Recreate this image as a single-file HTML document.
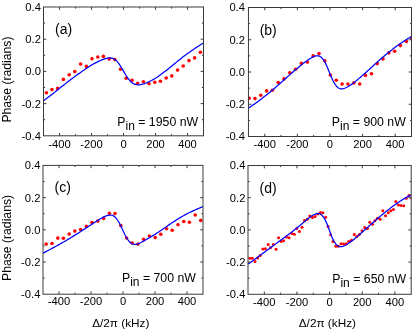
<!DOCTYPE html>
<html lang="en"><head><meta charset="utf-8"><title>Phase vs detuning</title>
<style>
html,body{margin:0;padding:0;background:#fff;}
body{width:415px;height:331px;overflow:hidden;}
svg{display:block;font-family:"Liberation Sans",sans-serif;will-change:transform;opacity:0.999;}
</style></head><body>
<svg width="415" height="331" viewBox="0 0 415 331">
<rect width="415" height="331" fill="#fff"/>
<g id="panel-a">
<clipPath id="clip-a"><rect x="43.5" y="7" width="160" height="128.8"/></clipPath>
<g fill="#ff0000" clip-path="url(#clip-a)"><circle cx="46.4" cy="92.8" r="1.8"/><circle cx="52" cy="89.6" r="1.8"/><circle cx="57.6" cy="88.4" r="1.8"/><circle cx="63.4" cy="79.4" r="1.8"/><circle cx="69.2" cy="74.8" r="1.8"/><circle cx="74.8" cy="71.6" r="1.8"/><circle cx="80.6" cy="64" r="1.8"/><circle cx="86.4" cy="66.4" r="1.8"/><circle cx="92" cy="58.8" r="1.8"/><circle cx="97.8" cy="57" r="1.8"/><circle cx="103.4" cy="56.4" r="1.8"/><circle cx="109.2" cy="59" r="1.8"/><circle cx="114.8" cy="59.6" r="1.8"/><circle cx="120.6" cy="69.2" r="1.8"/><circle cx="126.2" cy="78.2" r="1.8"/><circle cx="132" cy="80.3" r="1.8"/><circle cx="137.6" cy="83.2" r="1.8"/><circle cx="143.4" cy="81.7" r="1.8"/><circle cx="149" cy="83.8" r="1.8"/><circle cx="154.8" cy="82.2" r="1.8"/><circle cx="160.4" cy="81.3" r="1.8"/><circle cx="166.2" cy="78" r="1.8"/><circle cx="171.8" cy="75.9" r="1.8"/><circle cx="177.6" cy="70.1" r="1.8"/><circle cx="183.2" cy="66" r="1.8"/><circle cx="189" cy="60.6" r="1.8"/><circle cx="194.6" cy="57.9" r="1.8"/><circle cx="200.4" cy="52.3" r="1.8"/></g>
<path d="M43.5 100.73 L44.5 100.03 L45.5 99.32 L46.5 98.58 L47.5 97.84 L48.5 97.08 L49.5 96.31 L50.5 95.54 L51.5 94.75 L52.5 93.96 L53.5 93.17 L54.5 92.37 L55.5 91.57 L56.5 90.77 L57.5 89.96 L58.5 89.16 L59.5 88.36 L60.5 87.56 L61.5 86.77 L62.5 85.98 L63.5 85.19 L64.5 84.41 L65.5 83.63 L66.5 82.86 L67.5 82.09 L68.5 81.32 L69.5 80.56 L70.5 79.8 L71.5 79.04 L72.5 78.29 L73.5 77.55 L74.5 76.81 L75.5 76.07 L76.5 75.33 L77.5 74.6 L78.5 73.88 L79.5 73.16 L80.5 72.44 L81.5 71.73 L82.5 71.03 L83.5 70.33 L84.5 69.64 L85.5 68.96 L86.5 68.29 L87.5 67.63 L88.5 66.97 L89.5 66.33 L90.5 65.71 L91.5 65.1 L92.5 64.51 L93.5 63.93 L94.5 63.38 L95.5 62.85 L96.5 62.33 L97.5 61.84 L98.5 61.36 L99.5 60.9 L100.5 60.47 L101.5 60.05 L102.5 59.66 L103.5 59.29 L104.5 58.95 L105.5 58.64 L106.5 58.37 L107.5 58.15 L108.5 57.99 L109.5 57.91 L110.5 57.92 L111.5 58.04 L112.5 58.29 L113.5 58.69 L114.5 59.24 L115.5 59.96 L116.5 60.86 L117.5 61.94 L118.5 63.17 L119.5 64.57 L120.5 66.09 L121.5 67.71 L122.5 69.41 L123.5 71.13 L124.5 72.85 L125.5 74.53 L126.5 76.12 L127.5 77.62 L128.5 78.98 L129.5 80.21 L130.5 81.28 L131.5 82.2 L132.5 82.96 L133.5 83.59 L134.5 84.07 L135.5 84.43 L136.5 84.67 L137.5 84.8 L138.5 84.83 L139.5 84.78 L140.5 84.66 L141.5 84.47 L142.5 84.23 L143.5 83.93 L144.5 83.6 L145.5 83.23 L146.5 82.84 L147.5 82.41 L148.5 81.96 L149.5 81.49 L150.5 81 L151.5 80.49 L152.5 79.95 L153.5 79.39 L154.5 78.81 L155.5 78.2 L156.5 77.56 L157.5 76.91 L158.5 76.23 L159.5 75.53 L160.5 74.81 L161.5 74.08 L162.5 73.34 L163.5 72.58 L164.5 71.81 L165.5 71.03 L166.5 70.24 L167.5 69.44 L168.5 68.64 L169.5 67.84 L170.5 67.03 L171.5 66.21 L172.5 65.4 L173.5 64.58 L174.5 63.76 L175.5 62.95 L176.5 62.13 L177.5 61.32 L178.5 60.52 L179.5 59.72 L180.5 58.92 L181.5 58.14 L182.5 57.36 L183.5 56.59 L184.5 55.84 L185.5 55.09 L186.5 54.35 L187.5 53.62 L188.5 52.9 L189.5 52.19 L190.5 51.48 L191.5 50.78 L192.5 50.09 L193.5 49.4 L194.5 48.73 L195.5 48.05 L196.5 47.39 L197.5 46.74 L198.5 46.09 L199.5 45.45 L200.5 44.82 L201.5 44.2 L202.5 43.59 L203.5 42.98" fill="none" stroke="#0000ff" stroke-width="1.25" stroke-linejoin="round" clip-path="url(#clip-a)"/>
<rect x="43.5" y="7" width="160" height="128.8" fill="none" stroke="#3a3a3a" stroke-width="1.0"/>
<path d="M59.5 135.8v-2.8M59.5 7v2.8M75.5 135.8v-1.6M75.5 7v1.6M91.5 135.8v-2.8M91.5 7v2.8M107.5 135.8v-1.6M107.5 7v1.6M123.5 135.8v-2.8M123.5 7v2.8M139.5 135.8v-1.6M139.5 7v1.6M155.5 135.8v-2.8M155.5 7v2.8M171.5 135.8v-1.6M171.5 7v1.6M187.5 135.8v-2.8M187.5 7v2.8M43.5 23.1h1.6M203.5 23.1h-1.6M43.5 39.2h2.8M203.5 39.2h-2.8M43.5 55.3h1.6M203.5 55.3h-1.6M43.5 71.4h2.8M203.5 71.4h-2.8M43.5 87.5h1.6M203.5 87.5h-1.6M43.5 103.6h2.8M203.5 103.6h-2.8M43.5 119.7h1.6M203.5 119.7h-1.6" stroke="#3a3a3a" stroke-width="1.0" fill="none"/>
<g font-size="11.2" fill="#000"><text x="59.5" y="147.6" text-anchor="middle">-400</text><text x="91.5" y="147.6" text-anchor="middle">-200</text><text x="123.5" y="147.6" text-anchor="middle">0</text><text x="155.5" y="147.6" text-anchor="middle">200</text><text x="187.5" y="147.6" text-anchor="middle">400</text><text x="40.9" y="10.95" text-anchor="end">0.4</text><text x="40.9" y="43.15" text-anchor="end">0.2</text><text x="40.9" y="75.35" text-anchor="end">0.0</text><text x="40.9" y="107.55" text-anchor="end">-0.2</text><text x="40.9" y="139.75" text-anchor="end">-0.4</text></g>
<text x="55" y="33.6" font-size="14" fill="#000">(a)</text>
<text x="198.1" y="126" font-size="12.3" fill="#000" text-anchor="end">P<tspan font-size="12" dy="3.8">in</tspan><tspan dy="-3.8"> = 1950 nW</tspan></text>
</g>
<g id="panel-b">
<clipPath id="clip-b"><rect x="248.45" y="7.5" width="163.05" height="129"/></clipPath>
<g fill="#ff0000" clip-path="url(#clip-b)"><circle cx="249.2" cy="98.2" r="1.8"/><circle cx="255" cy="98.6" r="1.8"/><circle cx="260.8" cy="95.3" r="1.8"/><circle cx="266.6" cy="90.9" r="1.8"/><circle cx="272.4" cy="90.3" r="1.8"/><circle cx="278.2" cy="82.5" r="1.8"/><circle cx="284" cy="78.9" r="1.8"/><circle cx="289.8" cy="72.7" r="1.8"/><circle cx="295.6" cy="69.2" r="1.8"/><circle cx="301.4" cy="63.4" r="1.8"/><circle cx="307.4" cy="62.1" r="1.8"/><circle cx="313.2" cy="55.9" r="1.8"/><circle cx="319" cy="53.6" r="1.8"/><circle cx="324.8" cy="60.9" r="1.8"/><circle cx="330.3" cy="75" r="1.8"/><circle cx="336.3" cy="80.3" r="1.8"/><circle cx="342.1" cy="84" r="1.8"/><circle cx="347.9" cy="84" r="1.8"/><circle cx="353.9" cy="82.9" r="1.8"/><circle cx="359.7" cy="84" r="1.8"/><circle cx="365.5" cy="75.4" r="1.8"/><circle cx="371.5" cy="73.7" r="1.8"/><circle cx="377.3" cy="63.6" r="1.8"/><circle cx="383" cy="58.9" r="1.8"/><circle cx="388.8" cy="52.9" r="1.8"/><circle cx="394.6" cy="51.2" r="1.8"/><circle cx="400.4" cy="45.6" r="1.8"/><circle cx="406.4" cy="41.5" r="1.8"/><circle cx="411.8" cy="38.3" r="1.8"/></g>
<path d="M248.45 108.2 L249.47 107.49 L250.49 106.78 L251.51 106.07 L252.53 105.35 L253.55 104.63 L254.56 103.9 L255.58 103.17 L256.6 102.43 L257.62 101.69 L258.64 100.94 L259.66 100.18 L260.68 99.42 L261.7 98.65 L262.72 97.87 L263.74 97.09 L264.75 96.31 L265.77 95.51 L266.79 94.71 L267.81 93.9 L268.83 93.08 L269.85 92.25 L270.87 91.41 L271.89 90.56 L272.91 89.7 L273.93 88.82 L274.95 87.94 L275.96 87.05 L276.98 86.15 L278 85.25 L279.02 84.34 L280.04 83.42 L281.06 82.51 L282.08 81.59 L283.1 80.68 L284.12 79.76 L285.14 78.85 L286.16 77.94 L287.17 77.04 L288.19 76.14 L289.21 75.24 L290.23 74.35 L291.25 73.46 L292.27 72.58 L293.29 71.7 L294.31 70.83 L295.33 69.96 L296.35 69.1 L297.37 68.24 L298.38 67.4 L299.4 66.56 L300.42 65.74 L301.44 64.92 L302.46 64.12 L303.48 63.33 L304.5 62.55 L305.52 61.79 L306.54 61.04 L307.56 60.31 L308.57 59.6 L309.59 58.92 L310.61 58.28 L311.63 57.67 L312.65 57.12 L313.67 56.64 L314.69 56.24 L315.71 55.94 L316.73 55.77 L317.75 55.76 L318.77 55.94 L319.78 56.32 L320.8 56.94 L321.82 57.82 L322.84 58.99 L323.86 60.43 L324.88 62.16 L325.9 64.15 L326.92 66.36 L327.94 68.75 L328.96 71.24 L329.98 73.76 L330.99 76.23 L332.01 78.58 L333.03 80.74 L334.05 82.67 L335.07 84.33 L336.09 85.72 L337.11 86.83 L338.13 87.67 L339.15 88.27 L340.17 88.63 L341.18 88.81 L342.2 88.8 L343.22 88.65 L344.24 88.38 L345.26 88 L346.28 87.54 L347.3 87.01 L348.32 86.43 L349.34 85.79 L350.36 85.12 L351.38 84.42 L352.39 83.69 L353.41 82.93 L354.43 82.16 L355.45 81.37 L356.47 80.56 L357.49 79.73 L358.51 78.89 L359.53 78.04 L360.55 77.17 L361.57 76.29 L362.58 75.4 L363.6 74.5 L364.62 73.59 L365.64 72.68 L366.66 71.76 L367.68 70.83 L368.7 69.91 L369.72 68.98 L370.74 68.05 L371.76 67.12 L372.78 66.18 L373.79 65.25 L374.81 64.32 L375.83 63.39 L376.85 62.47 L377.87 61.55 L378.89 60.64 L379.91 59.73 L380.93 58.83 L381.95 57.94 L382.97 57.05 L383.99 56.18 L385 55.32 L386.02 54.48 L387.04 53.64 L388.06 52.82 L389.08 52 L390.1 51.2 L391.12 50.41 L392.14 49.62 L393.16 48.85 L394.18 48.08 L395.19 47.31 L396.21 46.56 L397.23 45.81 L398.25 45.06 L399.27 44.33 L400.29 43.6 L401.31 42.89 L402.33 42.19 L403.35 41.5 L404.37 40.82 L405.39 40.16 L406.4 39.52 L407.42 38.9 L408.44 38.3 L409.46 37.72 L410.48 37.17 L411.5 36.65" fill="none" stroke="#0000ff" stroke-width="1.25" stroke-linejoin="round" clip-path="url(#clip-b)"/>
<rect x="248.45" y="7.5" width="163.05" height="129" fill="none" stroke="#3a3a3a" stroke-width="1.0"/>
<path d="M264.75 136.5v-2.8M264.75 7.5v2.8M281.06 136.5v-1.6M281.06 7.5v1.6M297.37 136.5v-2.8M297.37 7.5v2.8M313.67 136.5v-1.6M313.67 7.5v1.6M329.98 136.5v-2.8M329.98 7.5v2.8M346.28 136.5v-1.6M346.28 7.5v1.6M362.58 136.5v-2.8M362.58 7.5v2.8M378.89 136.5v-1.6M378.89 7.5v1.6M395.19 136.5v-2.8M395.19 7.5v2.8M248.45 23.62h1.6M411.5 23.62h-1.6M248.45 39.75h2.8M411.5 39.75h-2.8M248.45 55.88h1.6M411.5 55.88h-1.6M248.45 72h2.8M411.5 72h-2.8M248.45 88.12h1.6M411.5 88.12h-1.6M248.45 104.25h2.8M411.5 104.25h-2.8M248.45 120.38h1.6M411.5 120.38h-1.6" stroke="#3a3a3a" stroke-width="1.0" fill="none"/>
<g font-size="11.2" fill="#000"><text x="264.75" y="148.3" text-anchor="middle">-400</text><text x="297.37" y="148.3" text-anchor="middle">-200</text><text x="329.98" y="148.3" text-anchor="middle">0</text><text x="362.58" y="148.3" text-anchor="middle">200</text><text x="395.19" y="148.3" text-anchor="middle">400</text><text x="244.95" y="11.45" text-anchor="end">0.4</text><text x="244.95" y="43.7" text-anchor="end">0.2</text><text x="244.95" y="75.95" text-anchor="end">0.0</text><text x="244.95" y="108.2" text-anchor="end">-0.2</text><text x="244.95" y="140.45" text-anchor="end">-0.4</text></g>
<text x="259.65" y="34.8" font-size="14" fill="#000">(b)</text>
<text x="405.8" y="126" font-size="12.3" fill="#000" text-anchor="end">P<tspan font-size="12" dy="3.8">in</tspan><tspan dy="-3.8"> = 900 nW</tspan></text>
</g>
<g id="panel-c">
<clipPath id="clip-c"><rect x="43" y="165.4" width="160" height="128.8"/></clipPath>
<g fill="#ff0000" clip-path="url(#clip-c)"><circle cx="46.2" cy="244.1" r="1.8"/><circle cx="52" cy="243.5" r="1.8"/><circle cx="57.8" cy="238.1" r="1.8"/><circle cx="63.4" cy="238.3" r="1.8"/><circle cx="69.2" cy="234" r="1.8"/><circle cx="74.8" cy="231.1" r="1.8"/><circle cx="80.6" cy="229.6" r="1.8"/><circle cx="86.4" cy="226.3" r="1.8"/><circle cx="92" cy="222.6" r="1.8"/><circle cx="97.8" cy="221.1" r="1.8"/><circle cx="103.6" cy="218.4" r="1.8"/><circle cx="109.4" cy="213.2" r="1.8"/><circle cx="115" cy="213.6" r="1.8"/><circle cx="120.8" cy="225.6" r="1.8"/><circle cx="126.6" cy="238" r="1.8"/><circle cx="132.2" cy="243" r="1.8"/><circle cx="138" cy="244.1" r="1.8"/><circle cx="143.6" cy="239.3" r="1.8"/><circle cx="149.4" cy="236" r="1.8"/><circle cx="155.2" cy="237.6" r="1.8"/><circle cx="160.8" cy="234.3" r="1.8"/><circle cx="166.6" cy="228.7" r="1.8"/><circle cx="172.2" cy="230.2" r="1.8"/><circle cx="178" cy="224.8" r="1.8"/><circle cx="183.8" cy="221.5" r="1.8"/><circle cx="189.4" cy="222.3" r="1.8"/><circle cx="195.2" cy="215" r="1.8"/><circle cx="200.8" cy="220.4" r="1.8"/></g>
<path d="M43 253.19 L44 252.66 L45 252.13 L46 251.6 L47 251.07 L48 250.54 L49 250.01 L50 249.48 L51 248.94 L52 248.41 L53 247.87 L54 247.33 L55 246.79 L56 246.24 L57 245.7 L58 245.15 L59 244.59 L60 244.03 L61 243.47 L62 242.9 L63 242.33 L64 241.75 L65 241.17 L66 240.59 L67 240 L68 239.4 L69 238.8 L70 238.2 L71 237.59 L72 236.98 L73 236.37 L74 235.75 L75 235.12 L76 234.5 L77 233.87 L78 233.23 L79 232.6 L80 231.96 L81 231.31 L82 230.66 L83 230.01 L84 229.36 L85 228.71 L86 228.05 L87 227.39 L88 226.74 L89 226.08 L90 225.42 L91 224.77 L92 224.11 L93 223.46 L94 222.82 L95 222.18 L96 221.54 L97 220.91 L98 220.29 L99 219.68 L100 219.08 L101 218.49 L102 217.92 L103 217.38 L104 216.87 L105 216.39 L106 215.96 L107 215.59 L108 215.3 L109 215.1 L110 215.01 L111 215.06 L112 215.26 L113 215.64 L114 216.21 L115 217 L116 218.02 L117 219.27 L118 220.75 L119 222.44 L120 224.31 L121 226.33 L122 228.45 L123 230.61 L124 232.75 L125 234.8 L126 236.72 L127 238.46 L128 239.99 L129 241.28 L130 242.34 L131 243.17 L132 243.77 L133 244.16 L134 244.36 L135 244.4 L136 244.3 L137 244.09 L138 243.78 L139 243.39 L140 242.95 L141 242.46 L142 241.94 L143 241.4 L144 240.85 L145 240.28 L146 239.71 L147 239.14 L148 238.56 L149 237.97 L150 237.39 L151 236.8 L152 236.21 L153 235.61 L154 235 L155 234.37 L156 233.74 L157 233.09 L158 232.44 L159 231.77 L160 231.1 L161 230.41 L162 229.72 L163 229.03 L164 228.34 L165 227.64 L166 226.95 L167 226.25 L168 225.56 L169 224.88 L170 224.19 L171 223.52 L172 222.84 L173 222.18 L174 221.52 L175 220.87 L176 220.22 L177 219.59 L178 218.96 L179 218.35 L180 217.74 L181 217.15 L182 216.56 L183 215.99 L184 215.43 L185 214.88 L186 214.35 L187 213.82 L188 213.31 L189 212.8 L190 212.31 L191 211.82 L192 211.34 L193 210.88 L194 210.41 L195 209.96 L196 209.52 L197 209.08 L198 208.66 L199 208.24 L200 207.83 L201 207.44 L202 207.05 L203 206.68" fill="none" stroke="#0000ff" stroke-width="1.25" stroke-linejoin="round" clip-path="url(#clip-c)"/>
<rect x="43" y="165.4" width="160" height="128.8" fill="none" stroke="#3a3a3a" stroke-width="1.0"/>
<path d="M59 294.2v-2.8M59 165.4v2.8M75 294.2v-1.6M75 165.4v1.6M91 294.2v-2.8M91 165.4v2.8M107 294.2v-1.6M107 165.4v1.6M123 294.2v-2.8M123 165.4v2.8M139 294.2v-1.6M139 165.4v1.6M155 294.2v-2.8M155 165.4v2.8M171 294.2v-1.6M171 165.4v1.6M187 294.2v-2.8M187 165.4v2.8M43 181.5h1.6M203 181.5h-1.6M43 197.6h2.8M203 197.6h-2.8M43 213.7h1.6M203 213.7h-1.6M43 229.8h2.8M203 229.8h-2.8M43 245.9h1.6M203 245.9h-1.6M43 262h2.8M203 262h-2.8M43 278.1h1.6M203 278.1h-1.6" stroke="#3a3a3a" stroke-width="1.0" fill="none"/>
<g font-size="11.2" fill="#000"><text x="59" y="305.45" text-anchor="middle">-400</text><text x="91" y="305.45" text-anchor="middle">-200</text><text x="123" y="305.45" text-anchor="middle">0</text><text x="155" y="305.45" text-anchor="middle">200</text><text x="187" y="305.45" text-anchor="middle">400</text><text x="40.4" y="169.35" text-anchor="end">0.4</text><text x="40.4" y="201.55" text-anchor="end">0.2</text><text x="40.4" y="233.75" text-anchor="end">0.0</text><text x="40.4" y="265.95" text-anchor="end">-0.2</text><text x="40.4" y="298.15" text-anchor="end">-0.4</text></g>
<text x="54.5" y="192" font-size="14" fill="#000">(c)</text>
<text x="195.9" y="282.3" font-size="12.3" fill="#000" text-anchor="end">P<tspan font-size="12" dy="3.8">in</tspan><tspan dy="-3.8"> = 700 nW</tspan></text>
</g>
<g id="panel-d">
<clipPath id="clip-d"><rect x="248" y="165.5" width="163.2" height="128.8"/></clipPath>
<g fill="#ff0000" clip-path="url(#clip-d)"><circle cx="249.8" cy="258.3" r="1.5"/><circle cx="252.3" cy="258.3" r="1.5"/><circle cx="255" cy="261.5" r="1.5"/><circle cx="257.65" cy="258.1" r="1.5"/><circle cx="260.2" cy="255.45" r="1.5"/><circle cx="262.9" cy="248.95" r="1.5"/><circle cx="265.4" cy="248.7" r="1.5"/><circle cx="268.2" cy="244.55" r="1.5"/><circle cx="270.7" cy="247.4" r="1.5"/><circle cx="273.3" cy="244.55" r="1.5"/><circle cx="276.1" cy="249.3" r="1.5"/><circle cx="278.6" cy="237.65" r="1.5"/><circle cx="281.1" cy="241.4" r="1.5"/><circle cx="283.6" cy="240.8" r="1.5"/><circle cx="286.35" cy="237.05" r="1.5"/><circle cx="289" cy="237.65" r="1.5"/><circle cx="291.75" cy="233.5" r="1.5"/><circle cx="294.25" cy="234.15" r="1.5"/><circle cx="296.8" cy="228.4" r="1.5"/><circle cx="299.4" cy="231.5" r="1.5"/><circle cx="302" cy="227.2" r="1.5"/><circle cx="304.5" cy="220.6" r="1.5"/><circle cx="307.3" cy="219.3" r="1.5"/><circle cx="309.8" cy="215.9" r="1.5"/><circle cx="312.5" cy="217.4" r="1.5"/><circle cx="315.05" cy="216.55" r="1.5"/><circle cx="317.7" cy="214.05" r="1.5"/><circle cx="320.4" cy="212.4" r="1.5"/><circle cx="322.9" cy="212.8" r="1.5"/><circle cx="325.6" cy="217.3" r="1.5"/><circle cx="328.1" cy="226.5" r="1.5"/><circle cx="330.6" cy="234.7" r="1.5"/><circle cx="333" cy="241.6" r="1.5"/><circle cx="335.8" cy="246.3" r="1.5"/><circle cx="338.3" cy="246.3" r="1.5"/><circle cx="341.05" cy="243.8" r="1.5"/><circle cx="343.55" cy="244.1" r="1.5"/><circle cx="346.2" cy="243.7" r="1.5"/><circle cx="348.7" cy="241.6" r="1.5"/><circle cx="351.45" cy="240.3" r="1.5"/><circle cx="354.3" cy="234.4" r="1.5"/><circle cx="356.8" cy="236.55" r="1.5"/><circle cx="359.3" cy="234.4" r="1.5"/><circle cx="362.1" cy="230.7" r="1.5"/><circle cx="364.7" cy="227.6" r="1.5"/><circle cx="367.4" cy="228.4" r="1.5"/><circle cx="369.8" cy="222.2" r="1.5"/><circle cx="372.45" cy="224.3" r="1.5"/><circle cx="374.9" cy="220.8" r="1.5"/><circle cx="377.4" cy="218.3" r="1.5"/><circle cx="380.2" cy="219.2" r="1.5"/><circle cx="382.8" cy="210.8" r="1.5"/><circle cx="385.55" cy="215.7" r="1.5"/><circle cx="388.3" cy="212.7" r="1.5"/><circle cx="390.8" cy="210.8" r="1.5"/><circle cx="393.45" cy="209.4" r="1.5"/><circle cx="395.8" cy="201.4" r="1.5"/><circle cx="398.45" cy="205.05" r="1.5"/><circle cx="401" cy="205.4" r="1.5"/><circle cx="403.7" cy="205.7" r="1.5"/><circle cx="406.2" cy="198.3" r="1.5"/><circle cx="409" cy="195.4" r="1.5"/><circle cx="411.6" cy="197.9" r="1.5"/></g>
<path d="M248 264.05 L249.02 263.36 L250.04 262.66 L251.06 261.95 L252.08 261.24 L253.1 260.52 L254.12 259.8 L255.14 259.07 L256.16 258.34 L257.18 257.6 L258.2 256.85 L259.22 256.1 L260.24 255.34 L261.26 254.58 L262.28 253.82 L263.3 253.06 L264.32 252.29 L265.34 251.53 L266.36 250.76 L267.38 250 L268.4 249.24 L269.42 248.48 L270.44 247.73 L271.46 246.97 L272.48 246.22 L273.5 245.48 L274.52 244.73 L275.54 243.99 L276.56 243.25 L277.58 242.51 L278.6 241.77 L279.62 241.03 L280.64 240.28 L281.66 239.54 L282.68 238.79 L283.7 238.05 L284.72 237.3 L285.74 236.54 L286.76 235.79 L287.78 235.02 L288.8 234.26 L289.82 233.49 L290.84 232.71 L291.86 231.93 L292.88 231.14 L293.9 230.34 L294.92 229.53 L295.94 228.72 L296.96 227.9 L297.98 227.06 L299 226.22 L300.02 225.37 L301.04 224.51 L302.06 223.65 L303.08 222.78 L304.1 221.91 L305.12 221.05 L306.14 220.19 L307.16 219.35 L308.18 218.53 L309.2 217.73 L310.22 216.97 L311.24 216.25 L312.26 215.59 L313.28 214.99 L314.3 214.46 L315.32 214.03 L316.34 213.72 L317.36 213.54 L318.38 213.53 L319.4 213.71 L320.42 214.13 L321.44 214.8 L322.46 215.77 L323.48 217.06 L324.5 218.68 L325.52 220.62 L326.54 222.86 L327.56 225.36 L328.58 228.04 L329.6 230.8 L330.62 233.54 L331.64 236.15 L332.66 238.54 L333.68 240.64 L334.7 242.42 L335.72 243.86 L336.74 244.96 L337.76 245.75 L338.78 246.27 L339.8 246.55 L340.82 246.63 L341.84 246.54 L342.86 246.31 L343.88 245.97 L344.9 245.52 L345.92 245 L346.94 244.42 L347.96 243.77 L348.98 243.08 L350 242.36 L351.02 241.59 L352.04 240.81 L353.06 240 L354.08 239.18 L355.1 238.34 L356.12 237.49 L357.14 236.63 L358.16 235.76 L359.18 234.88 L360.2 233.99 L361.22 233.09 L362.24 232.19 L363.26 231.28 L364.28 230.37 L365.3 229.46 L366.32 228.54 L367.34 227.62 L368.36 226.7 L369.38 225.79 L370.4 224.87 L371.42 223.96 L372.44 223.05 L373.46 222.15 L374.48 221.25 L375.5 220.35 L376.52 219.47 L377.54 218.58 L378.56 217.71 L379.58 216.85 L380.6 215.99 L381.62 215.14 L382.64 214.3 L383.66 213.46 L384.68 212.63 L385.7 211.81 L386.72 211 L387.74 210.2 L388.76 209.41 L389.78 208.62 L390.8 207.84 L391.82 207.08 L392.84 206.32 L393.86 205.58 L394.88 204.84 L395.9 204.12 L396.92 203.4 L397.94 202.7 L398.96 202 L399.98 201.32 L401 200.66 L402.02 200 L403.04 199.36 L404.06 198.73 L405.08 198.12 L406.1 197.52 L407.12 196.95 L408.14 196.39 L409.16 195.85 L410.18 195.32 L411.2 194.82" fill="none" stroke="#0000ff" stroke-width="1.25" stroke-linejoin="round" clip-path="url(#clip-d)"/>
<rect x="248" y="165.5" width="163.2" height="128.8" fill="none" stroke="#3a3a3a" stroke-width="1.0"/>
<path d="M264.32 294.3v-2.8M264.32 165.5v2.8M280.64 294.3v-1.6M280.64 165.5v1.6M296.96 294.3v-2.8M296.96 165.5v2.8M313.28 294.3v-1.6M313.28 165.5v1.6M329.6 294.3v-2.8M329.6 165.5v2.8M345.92 294.3v-1.6M345.92 165.5v1.6M362.24 294.3v-2.8M362.24 165.5v2.8M378.56 294.3v-1.6M378.56 165.5v1.6M394.88 294.3v-2.8M394.88 165.5v2.8M248 181.6h1.6M411.2 181.6h-1.6M248 197.7h2.8M411.2 197.7h-2.8M248 213.8h1.6M411.2 213.8h-1.6M248 229.9h2.8M411.2 229.9h-2.8M248 246h1.6M411.2 246h-1.6M248 262.1h2.8M411.2 262.1h-2.8M248 278.2h1.6M411.2 278.2h-1.6" stroke="#3a3a3a" stroke-width="1.0" fill="none"/>
<g font-size="11.2" fill="#000"><text x="264.32" y="306.4" text-anchor="middle">-400</text><text x="296.96" y="306.4" text-anchor="middle">-200</text><text x="329.6" y="306.4" text-anchor="middle">0</text><text x="362.24" y="306.4" text-anchor="middle">200</text><text x="394.88" y="306.4" text-anchor="middle">400</text><text x="245.4" y="169.45" text-anchor="end">0.4</text><text x="245.4" y="201.65" text-anchor="end">0.2</text><text x="245.4" y="233.85" text-anchor="end">0.0</text><text x="245.4" y="266.05" text-anchor="end">-0.2</text><text x="245.4" y="298.25" text-anchor="end">-0.4</text></g>
<text x="259.6" y="193" font-size="14" fill="#000">(d)</text>
<text x="406.2" y="283.45" font-size="12.3" fill="#000" text-anchor="end">P<tspan font-size="12" dy="3.8">in</tspan><tspan dy="-3.8"> = 650 nW</tspan></text>
</g>
<text transform="translate(10.8 79.55) rotate(-90)" font-size="12.2" text-anchor="middle" fill="#000">Phase (radians)</text>
<text transform="translate(10.8 237.95) rotate(-90)" font-size="12.2" text-anchor="middle" fill="#000">Phase (radians)</text>
<text x="120.8" y="326.7" font-size="11.8" text-anchor="middle" fill="#000">Δ/2π (kHz)</text>
<text x="327.4" y="326.7" font-size="11.8" text-anchor="middle" fill="#000">Δ/2π (kHz)</text>
</svg>
</body></html>
